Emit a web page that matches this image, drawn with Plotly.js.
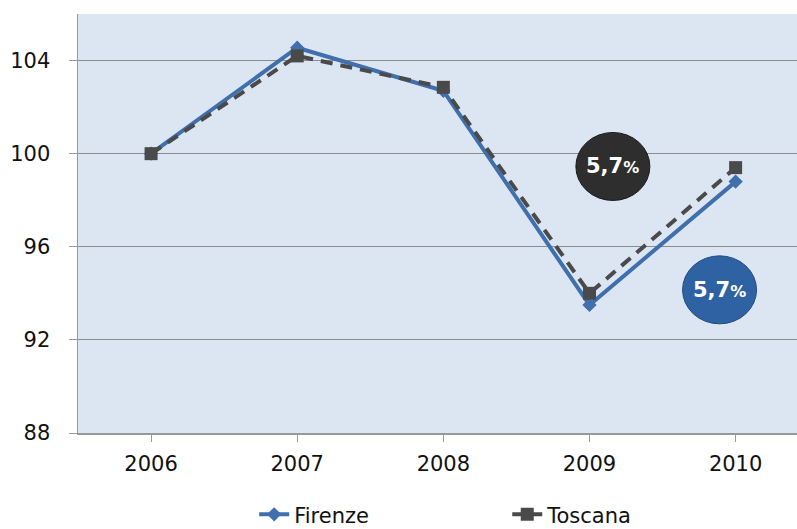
<!DOCTYPE html>
<html><head><meta charset="utf-8">
<script src="https://cdn.plot.ly/plotly-3.0.1.min.js"></script>
<style>html,body{margin:0;padding:0;background:#fff}#c{width:797px;height:529px}</style>
</head><body><div id="c"></div>
<script>
const years = ['2006','2007','2008','2009','2010'];
const firenze = [100, 104.55, 102.7, 93.5, 98.8];
const toscana = [100, 104.2, 102.85, 94.0, 99.4];
const yTicks = [88, 92, 96, 100, 104];
const badgeText = '5,7%';

const font = 'DejaVu Sans, Verdana, sans-serif';
const traces = [
  {x: years, y: firenze, name: 'Firenze', type: 'scatter', mode: 'lines+markers', legend: 'legend',
   line: {color: '#3f70ad', width: 4}, marker: {symbol: 'diamond', size: 11, color: '#3f70ad'}},
  {x: years, y: toscana, name: 'Toscana', type: 'scatter', mode: 'lines+markers', legend: 'legend2',
   line: {color: '#4a4a4a', width: 4, dash: '12px,8px'}, marker: {symbol: 'square', size: 13, color: '#4a4a4a'}}
];
const legFont = {family: font, size: 21, color: '#111'};
const layout = {
  width: 797, height: 529,
  margin: {l: 78, r: 0, t: 14, b: 96, autoexpand: false},
  paper_bgcolor: '#ffffff', plot_bgcolor: '#dce6f2',
  font: {family: font, size: 20, color: '#111'},
  showlegend: true,
  legend: {orientation: 'h', x: 0.245, xanchor: 'left', y: -0.146, yanchor: 'top', font: legFont, bgcolor: 'rgba(0,0,0,0)'},
  legend2: {orientation: 'h', x: 0.597, xanchor: 'left', y: -0.146, yanchor: 'top', font: legFont, bgcolor: 'rgba(0,0,0,0)'},
  xaxis: {type: 'category', range: [-0.5, 4.42], showgrid: false, zeroline: false,
          showline: true, linecolor: '#999', linewidth: 1.5, ticks: 'outside', ticklen: 7,
          tickcolor: '#999', tickfont: {family: font, size: 21, color: '#111'}, fixedrange: true,
          ticklabelstandoff: 4},
  yaxis: {range: [88, 106], tickvals: yTicks, ticktext: yTicks.map(String), showgrid: true,
          gridcolor: '#8c8c8c', gridwidth: 1, zeroline: false, showline: true, linecolor: '#999',
          linewidth: 1.5, ticks: 'outside', ticklen: 8, tickcolor: '#999',
          tickfont: {family: font, size: 21, color: '#111'}, fixedrange: true,
          ticklabelstandoff: 14},
  shapes: [
    {type: 'circle', xref: 'x', yref: 'y', xsizemode: 'pixel', ysizemode: 'pixel',
     xanchor: 3.16, yanchor: 99.45, x0: -37, x1: 37, y0: -34, y1: 34,
     fillcolor: '#2e2e2e', line: {color: '#1a1a1a', width: 1}},
    {type: 'circle', xref: 'x', yref: 'y', xsizemode: 'pixel', ysizemode: 'pixel',
     xanchor: 3.89, yanchor: 94.15, x0: -37, x1: 37, y0: -34, y1: 34,
     fillcolor: '#2f62a2', line: {color: '#1f4a80', width: 1}}
  ],
  annotations: [
    {xref: 'x', yref: 'y', x: 3.16, y: 99.45, text: '<b>5,7<span style="font-size:16px">%</span></b>', showarrow: false,
     font: {family: font, size: 21, color: '#ffffff'}},
    {xref: 'x', yref: 'y', x: 3.89, y: 94.15, text: '<b>5,7<span style="font-size:16px">%</span></b>', showarrow: false,
     font: {family: font, size: 21, color: '#ffffff'}}
  ]
};
Plotly.newPlot('c', traces, layout, {displayModeBar: false, staticPlot: true});
</script></body></html>
